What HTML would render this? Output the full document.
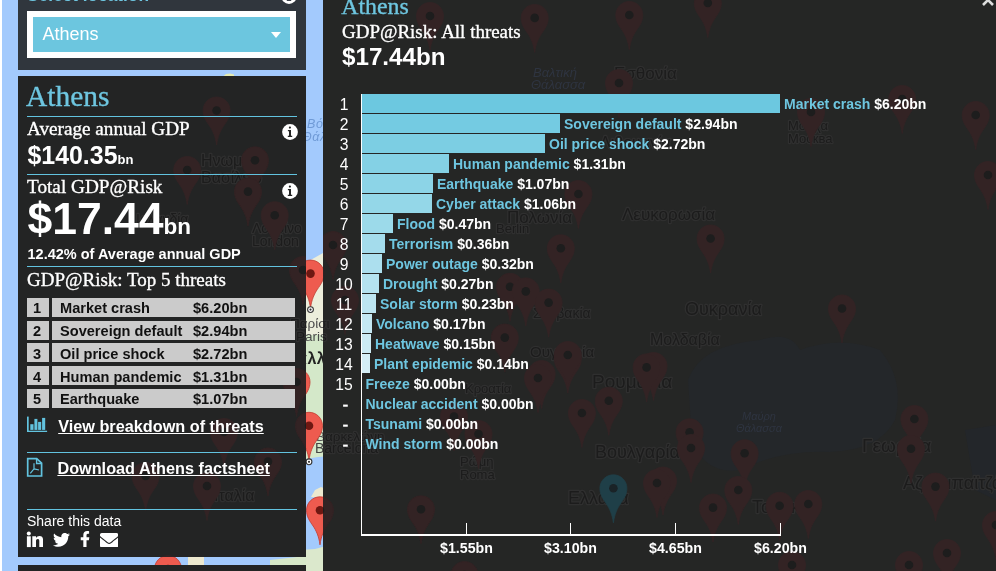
<!DOCTYPE html>
<html><head><meta charset="utf-8">
<style>
*{margin:0;padding:0;box-sizing:border-box}
html,body{width:996px;height:571px;overflow:hidden}
body{position:relative;background:#a3cafd;font-family:"Liberation Sans",Arial,sans-serif;color:#fff}
.r{position:absolute}
.t{position:absolute;white-space:nowrap;line-height:1}
.f1{font-family:"Liberation Sans",Arial,sans-serif}
.f2{font-family:"Liberation Serif","Times New Roman",serif}
.b{font-weight:bold}
</style></head><body>
<div class="r" style="left:0px;top:0px;width:2px;height:571px;background:#fff;"></div>
<svg class="r" style="left:0;top:0" width="996" height="571">
<polygon points="300,266 323,253 330,253 330,335 300,335" fill="#eceedb"/>
<polygon points="300,335 330,335 330,456 318,457 306,459 300,460" fill="#d4e8c9"/>
<polygon points="311,497 315,490 321,487 326,489 326,498" fill="#ece9cf"/>
<polygon points="300,550 315,549 330,545 330,571 300,571" fill="#dbe8cc"/>
<polygon points="188,557 204,557 204,566 188,566" fill="#ede9cf"/>
<polygon points="270,560 306,556 306,566 270,566" fill="#d7e8c9"/>
<polygon points="223,76.5 226,74 230,73.6 234,74.5 234,76.5" fill="#e6ebb0"/>
<text x="307" y="128.4" font-family="Liberation Sans,sans-serif" font-style="italic" font-size="12.5" fill="#6f9ad6" letter-spacing="0.6">Βόρεια</text>
<text x="302" y="140.5" font-family="Liberation Sans,sans-serif" font-style="italic" font-size="12.5" fill="#6f9ad6" letter-spacing="0.6">Θάλασσα</text>
<text x="290" y="328" font-family="Liberation Sans,sans-serif" font-size="13.5" fill="#4a4a4a">Παρίσι</text>
<text x="296" y="340.5" font-family="Liberation Sans,sans-serif" font-size="13.5" fill="#4a4a4a">Paris</text>
<text x="287" y="363.5" font-family="Liberation Sans,sans-serif" font-size="16" font-weight="bold" fill="#222" letter-spacing="0.5">Γαλλία</text>
<text x="316" y="441" font-family="Liberation Sans,sans-serif" font-size="13.5" fill="#555">Βαρκελώνη</text>
<text x="315" y="452.5" font-family="Liberation Sans,sans-serif" font-size="14" fill="#444">Barcelona</text>
<g transform="translate(297.0,260.1)"><path d="M13.5 0C6 0 0 6 0 13.5C0 20 3.2 24.2 6.6 29.2C9.6 33.6 12.4 39.5 13.5 48C14.6 39.5 17.4 33.6 20.4 29.2C23.8 24.2 27 20 27 13.5C27 6 21 0 13.5 0Z" fill="#ee5b4f" stroke="#c03a2f" stroke-width="0.8"/><circle cx="13.5" cy="13.5" r="4.3" fill="#6e1812"/><circle cx="13.5" cy="49.5" r="2.9" fill="#fff" stroke="#333" stroke-width="1.1"/><circle cx="13.5" cy="49.5" r="1.1" fill="#333"/></g>
<g transform="translate(283.0,368.5)"><path d="M13.5 0C6 0 0 6 0 13.5C0 20 3.2 24.2 6.6 29.2C9.6 33.6 12.4 39.5 13.5 48C14.6 39.5 17.4 33.6 20.4 29.2C23.8 24.2 27 20 27 13.5C27 6 21 0 13.5 0Z" fill="#ee5b4f" stroke="#c03a2f" stroke-width="0.8"/><circle cx="13.5" cy="13.5" r="4.3" fill="#6e1812"/></g>
<g transform="translate(295.5,412.3)"><path d="M13.5 0C6 0 0 6 0 13.5C0 20 3.2 24.2 6.6 29.2C9.6 33.6 12.4 39.5 13.5 48C14.6 39.5 17.4 33.6 20.4 29.2C23.8 24.2 27 20 27 13.5C27 6 21 0 13.5 0Z" fill="#ee5b4f" stroke="#c03a2f" stroke-width="0.8"/><circle cx="13.5" cy="13.5" r="4.3" fill="#6e1812"/><circle cx="13.5" cy="49.5" r="2.9" fill="#fff" stroke="#333" stroke-width="1.1"/><circle cx="13.5" cy="49.5" r="1.1" fill="#333"/></g>
<g transform="translate(306.5,496.8)"><path d="M13.5 0C6 0 0 6 0 13.5C0 20 3.2 24.2 6.6 29.2C9.6 33.6 12.4 39.5 13.5 48C14.6 39.5 17.4 33.6 20.4 29.2C23.8 24.2 27 20 27 13.5C27 6 21 0 13.5 0Z" fill="#ee5b4f" stroke="#c03a2f" stroke-width="0.8"/><circle cx="13.5" cy="13.5" r="4.3" fill="#6e1812"/></g>
<g transform="translate(154.5,555.5)"><path d="M13.5 0C6 0 0 6 0 13.5C0 20 3.2 24.2 6.6 29.2C9.6 33.6 12.4 39.5 13.5 48C14.6 39.5 17.4 33.6 20.4 29.2C23.8 24.2 27 20 27 13.5C27 6 21 0 13.5 0Z" fill="#ee5b4f" stroke="#c03a2f" stroke-width="0.8"/><circle cx="13.5" cy="13.5" r="4.3" fill="#6e1812"/></g>
</svg>
<div class="r" style="left:18px;top:0;width:288px;height:70px;background:#30363d"></div>
<div class="r" style="left:18px;top:76px;width:288px;height:481px;background:#232424"></div>
<div class="r" style="left:18px;top:565px;width:288px;height:10px;background:#232424"></div>
<div class="r" style="left:323px;top:0;width:673px;height:571px;background:#252625"></div>
<svg class="r" style="left:0;top:0" width="996" height="571">
<defs><clipPath id="cp"><rect x="18" y="76" width="288" height="481"/><rect x="323" y="0" width="673" height="571"/></clipPath></defs>
<g clip-path="url(#cp)">
<path d="M688 380 Q700 345 760 340 Q790 330 800 350 Q840 335 880 350 Q905 380 895 420 Q880 450 830 452 Q780 450 740 470 Q705 475 692 440 Z" fill="#24272a"/>
<polygon points="965,430 996,425 996,500 975,490" fill="#23262a"/>
<text x="533" y="77" font-family="Liberation Sans,sans-serif" font-style="italic" font-size="13" fill="#2e3440">Βαλτική</text>
<text x="531" y="89" font-family="Liberation Sans,sans-serif" font-style="italic" font-size="13" fill="#2e3440">Θάλασσα</text>
<text x="614" y="79" font-family="Liberation Sans,sans-serif" font-size="17" fill="#1c1c1c" stroke="#2f2f2f" stroke-width="2.5" paint-order="stroke" stroke-linejoin="round">Εσθονία</text>
<text x="600" y="148" font-family="Liberation Sans,sans-serif" font-size="16" fill="#1c1c1c" stroke="#2f2f2f" stroke-width="2.5" paint-order="stroke" stroke-linejoin="round">Λιθουανία</text>
<text x="622" y="220" font-family="Liberation Sans,sans-serif" font-size="17" fill="#1c1c1c" stroke="#2f2f2f" stroke-width="2.5" paint-order="stroke" stroke-linejoin="round">Λευκορωσία</text>
<text x="507" y="223" font-family="Liberation Sans,sans-serif" font-size="17" fill="#1c1c1c" stroke="#2f2f2f" stroke-width="2.5" paint-order="stroke" stroke-linejoin="round">Πολωνία</text>
<text x="685" y="315" font-family="Liberation Sans,sans-serif" font-size="18" fill="#1c1c1c" stroke="#2f2f2f" stroke-width="2.5" paint-order="stroke" stroke-linejoin="round">Ουκρανία</text>
<text x="650" y="345" font-family="Liberation Sans,sans-serif" font-size="16" fill="#1c1c1c" stroke="#2f2f2f" stroke-width="2.5" paint-order="stroke" stroke-linejoin="round">Μολδαβία</text>
<text x="533" y="318" font-family="Liberation Sans,sans-serif" font-size="14" fill="#1c1c1c" stroke="#2f2f2f" stroke-width="2.5" paint-order="stroke" stroke-linejoin="round">Σλοβακία</text>
<text x="530" y="357" font-family="Liberation Sans,sans-serif" font-size="15" fill="#1c1c1c" stroke="#2f2f2f" stroke-width="2.5" paint-order="stroke" stroke-linejoin="round">Ουγγαρία</text>
<text x="592" y="388" font-family="Liberation Sans,sans-serif" font-size="19" fill="#1c1c1c" stroke="#2f2f2f" stroke-width="2.5" paint-order="stroke" stroke-linejoin="round">Ρουμανία</text>
<text x="595" y="458" font-family="Liberation Sans,sans-serif" font-size="18" fill="#1c1c1c" stroke="#2f2f2f" stroke-width="2.5" paint-order="stroke" stroke-linejoin="round">Βουλγαρία</text>
<text x="568" y="504" font-family="Liberation Sans,sans-serif" font-size="18" fill="#1c1c1c" stroke="#2f2f2f" stroke-width="2.5" paint-order="stroke" stroke-linejoin="round">Ελλάδα</text>
<text x="862" y="452" font-family="Liberation Sans,sans-serif" font-size="19" fill="#1c1c1c" stroke="#2f2f2f" stroke-width="2.5" paint-order="stroke" stroke-linejoin="round">Γεωργία</text>
<text x="903" y="489" font-family="Liberation Sans,sans-serif" font-size="18" fill="#1c1c1c" stroke="#2f2f2f" stroke-width="2.5" paint-order="stroke" stroke-linejoin="round">Αζερμπαϊτζάν</text>
<text x="752" y="513" font-family="Liberation Sans,sans-serif" font-size="18" fill="#1c1c1c" stroke="#2f2f2f" stroke-width="2.5" paint-order="stroke" stroke-linejoin="round">Τουρκία</text>
<text x="788" y="130" font-family="Liberation Sans,sans-serif" font-size="13" fill="#1c1c1c" stroke="#2f2f2f" stroke-width="2.5" paint-order="stroke" stroke-linejoin="round">Μόσχα</text>
<text x="788" y="143" font-family="Liberation Sans,sans-serif" font-size="13" fill="#1c1c1c" stroke="#2f2f2f" stroke-width="2.5" paint-order="stroke" stroke-linejoin="round">Москва</text>
<text x="465" y="393" font-family="Liberation Sans,sans-serif" font-size="13" fill="#1c1c1c" stroke="#2f2f2f" stroke-width="2.5" paint-order="stroke" stroke-linejoin="round">Κροατία</text>
<text x="460" y="466" font-family="Liberation Sans,sans-serif" font-size="13" fill="#1c1c1c" stroke="#2f2f2f" stroke-width="2.5" paint-order="stroke" stroke-linejoin="round">Ρώμη</text>
<text x="460" y="479" font-family="Liberation Sans,sans-serif" font-size="13" fill="#1c1c1c" stroke="#2f2f2f" stroke-width="2.5" paint-order="stroke" stroke-linejoin="round">Roma</text>
<text x="742" y="420" font-family="Liberation Sans,sans-serif" font-style="italic" font-size="11" fill="#2e3440">Μαύρη</text>
<text x="736" y="432" font-family="Liberation Sans,sans-serif" font-style="italic" font-size="11" fill="#2e3440">Θάλασσα</text>
<text x="201" y="166" font-family="Liberation Sans,sans-serif" font-size="16" fill="#1c1c1c" stroke="#2f2f2f" stroke-width="2.5" paint-order="stroke" stroke-linejoin="round">Ηνωμένο</text>
<text x="201" y="183" font-family="Liberation Sans,sans-serif" font-size="16" fill="#1c1c1c" stroke="#2f2f2f" stroke-width="2.5" paint-order="stroke" stroke-linejoin="round">Βασίλειο</text>
<text x="252" y="233" font-family="Liberation Sans,sans-serif" font-size="14" fill="#1c1c1c" stroke="#2f2f2f" stroke-width="2.5" paint-order="stroke" stroke-linejoin="round">Λονδίνο</text>
<text x="252" y="246" font-family="Liberation Sans,sans-serif" font-size="14" fill="#1c1c1c" stroke="#2f2f2f" stroke-width="2.5" paint-order="stroke" stroke-linejoin="round">London</text>
<text x="214" y="501" font-family="Liberation Sans,sans-serif" font-size="16" fill="#1c1c1c" stroke="#2f2f2f" stroke-width="2.5" paint-order="stroke" stroke-linejoin="round">Ιταλία</text>
<text x="136" y="224" font-family="Liberation Sans,sans-serif" font-size="14" fill="#1c1c1c" stroke="#2f2f2f" stroke-width="2.5" paint-order="stroke" stroke-linejoin="round">Ιρλανδία</text>
<text x="316" y="441" font-family="Liberation Sans,sans-serif" font-size="13.5" fill="#1c1c1c" stroke="#2f2f2f" stroke-width="2.5" paint-order="stroke" stroke-linejoin="round">Βαρκελώνη</text>
<text x="315" y="452.5" font-family="Liberation Sans,sans-serif" font-size="14" fill="#1c1c1c" stroke="#2f2f2f" stroke-width="2.5" paint-order="stroke" stroke-linejoin="round">Barcelona</text>
<text x="290" y="328" font-family="Liberation Sans,sans-serif" font-size="13.5" fill="#1c1c1c" stroke="#2f2f2f" stroke-width="2.5" paint-order="stroke" stroke-linejoin="round">Παρίσι</text>
<text x="296" y="340.5" font-family="Liberation Sans,sans-serif" font-size="13.5" fill="#1c1c1c" stroke="#2f2f2f" stroke-width="2.5" paint-order="stroke" stroke-linejoin="round">Paris</text>
<text x="496" y="233" font-family="Liberation Sans,sans-serif" font-size="13" fill="#1c1c1c" stroke="#2f2f2f" stroke-width="2.5" paint-order="stroke" stroke-linejoin="round">Berlin</text>
<g transform="translate(416.5,2.5)"><path d="M13.5 0C6 0 0 6 0 13.5C0 20 3.2 24.2 6.6 29.2C9.6 33.6 12.4 39.5 13.5 48C14.6 39.5 17.4 33.6 20.4 29.2C23.8 24.2 27 20 27 13.5C27 6 21 0 13.5 0Z" fill="#332324" stroke="#332324" stroke-width="0.8"/><circle cx="13.5" cy="13.5" r="4.3" fill="#1d1d1d"/></g>
<g transform="translate(521.2,4.4)"><path d="M13.5 0C6 0 0 6 0 13.5C0 20 3.2 24.2 6.6 29.2C9.6 33.6 12.4 39.5 13.5 48C14.6 39.5 17.4 33.6 20.4 29.2C23.8 24.2 27 20 27 13.5C27 6 21 0 13.5 0Z" fill="#332324" stroke="#332324" stroke-width="0.8"/><circle cx="13.5" cy="13.5" r="4.3" fill="#1d1d1d"/></g>
<g transform="translate(615.8,1.5)"><path d="M13.5 0C6 0 0 6 0 13.5C0 20 3.2 24.2 6.6 29.2C9.6 33.6 12.4 39.5 13.5 48C14.6 39.5 17.4 33.6 20.4 29.2C23.8 24.2 27 20 27 13.5C27 6 21 0 13.5 0Z" fill="#332324" stroke="#332324" stroke-width="0.8"/><circle cx="13.5" cy="13.5" r="4.3" fill="#1d1d1d"/></g>
<g transform="translate(605.5,69.5)"><path d="M13.5 0C6 0 0 6 0 13.5C0 20 3.2 24.2 6.6 29.2C9.6 33.6 12.4 39.5 13.5 48C14.6 39.5 17.4 33.6 20.4 29.2C23.8 24.2 27 20 27 13.5C27 6 21 0 13.5 0Z" fill="#332324" stroke="#332324" stroke-width="0.8"/><circle cx="13.5" cy="13.5" r="4.3" fill="#1d1d1d"/></g>
<g transform="translate(694.3,-10.5)"><path d="M13.5 0C6 0 0 6 0 13.5C0 20 3.2 24.2 6.6 29.2C9.6 33.6 12.4 39.5 13.5 48C14.6 39.5 17.4 33.6 20.4 29.2C23.8 24.2 27 20 27 13.5C27 6 21 0 13.5 0Z" fill="#332324" stroke="#332324" stroke-width="0.8"/><circle cx="13.5" cy="13.5" r="4.3" fill="#1d1d1d"/></g>
<g transform="translate(797.5,98.5)"><path d="M13.5 0C6 0 0 6 0 13.5C0 20 3.2 24.2 6.6 29.2C9.6 33.6 12.4 39.5 13.5 48C14.6 39.5 17.4 33.6 20.4 29.2C23.8 24.2 27 20 27 13.5C27 6 21 0 13.5 0Z" fill="#332324" stroke="#332324" stroke-width="0.8"/><circle cx="13.5" cy="13.5" r="4.3" fill="#1d1d1d"/></g>
<g transform="translate(888.7,85.5)"><path d="M13.5 0C6 0 0 6 0 13.5C0 20 3.2 24.2 6.6 29.2C9.6 33.6 12.4 39.5 13.5 48C14.6 39.5 17.4 33.6 20.4 29.2C23.8 24.2 27 20 27 13.5C27 6 21 0 13.5 0Z" fill="#332324" stroke="#332324" stroke-width="0.8"/><circle cx="13.5" cy="13.5" r="4.3" fill="#1d1d1d"/></g>
<g transform="translate(962.2,101.5)"><path d="M13.5 0C6 0 0 6 0 13.5C0 20 3.2 24.2 6.6 29.2C9.6 33.6 12.4 39.5 13.5 48C14.6 39.5 17.4 33.6 20.4 29.2C23.8 24.2 27 20 27 13.5C27 6 21 0 13.5 0Z" fill="#332324" stroke="#332324" stroke-width="0.8"/><circle cx="13.5" cy="13.5" r="4.3" fill="#1d1d1d"/></g>
<g transform="translate(974.5,161.5)"><path d="M13.5 0C6 0 0 6 0 13.5C0 20 3.2 24.2 6.6 29.2C9.6 33.6 12.4 39.5 13.5 48C14.6 39.5 17.4 33.6 20.4 29.2C23.8 24.2 27 20 27 13.5C27 6 21 0 13.5 0Z" fill="#332324" stroke="#332324" stroke-width="0.8"/><circle cx="13.5" cy="13.5" r="4.3" fill="#1d1d1d"/></g>
<g transform="translate(697.1,225.0)"><path d="M13.5 0C6 0 0 6 0 13.5C0 20 3.2 24.2 6.6 29.2C9.6 33.6 12.4 39.5 13.5 48C14.6 39.5 17.4 33.6 20.4 29.2C23.8 24.2 27 20 27 13.5C27 6 21 0 13.5 0Z" fill="#332324" stroke="#332324" stroke-width="0.8"/><circle cx="13.5" cy="13.5" r="4.3" fill="#1d1d1d"/></g>
<g transform="translate(828.5,295.0)"><path d="M13.5 0C6 0 0 6 0 13.5C0 20 3.2 24.2 6.6 29.2C9.6 33.6 12.4 39.5 13.5 48C14.6 39.5 17.4 33.6 20.4 29.2C23.8 24.2 27 20 27 13.5C27 6 21 0 13.5 0Z" fill="#332324" stroke="#332324" stroke-width="0.8"/><circle cx="13.5" cy="13.5" r="4.3" fill="#1d1d1d"/></g>
<g transform="translate(640.0,352.5)"><path d="M13.5 0C6 0 0 6 0 13.5C0 20 3.2 24.2 6.6 29.2C9.6 33.6 12.4 39.5 13.5 48C14.6 39.5 17.4 33.6 20.4 29.2C23.8 24.2 27 20 27 13.5C27 6 21 0 13.5 0Z" fill="#332324" stroke="#332324" stroke-width="0.8"/><circle cx="13.5" cy="13.5" r="4.3" fill="#1d1d1d"/></g>
<g transform="translate(676.1,418.8)"><path d="M13.5 0C6 0 0 6 0 13.5C0 20 3.2 24.2 6.6 29.2C9.6 33.6 12.4 39.5 13.5 48C14.6 39.5 17.4 33.6 20.4 29.2C23.8 24.2 27 20 27 13.5C27 6 21 0 13.5 0Z" fill="#332324" stroke="#332324" stroke-width="0.8"/><circle cx="13.5" cy="13.5" r="4.3" fill="#1d1d1d"/></g>
<g transform="translate(677.5,434.5)"><path d="M13.5 0C6 0 0 6 0 13.5C0 20 3.2 24.2 6.6 29.2C9.6 33.6 12.4 39.5 13.5 48C14.6 39.5 17.4 33.6 20.4 29.2C23.8 24.2 27 20 27 13.5C27 6 21 0 13.5 0Z" fill="#332324" stroke="#332324" stroke-width="0.8"/><circle cx="13.5" cy="13.5" r="4.3" fill="#1d1d1d"/></g>
<g transform="translate(649.5,467.1)"><path d="M13.5 0C6 0 0 6 0 13.5C0 20 3.2 24.2 6.6 29.2C9.6 33.6 12.4 39.5 13.5 48C14.6 39.5 17.4 33.6 20.4 29.2C23.8 24.2 27 20 27 13.5C27 6 21 0 13.5 0Z" fill="#332324" stroke="#332324" stroke-width="0.8"/><circle cx="13.5" cy="13.5" r="4.3" fill="#1d1d1d"/></g>
<g transform="translate(731.1,439.8)"><path d="M13.5 0C6 0 0 6 0 13.5C0 20 3.2 24.2 6.6 29.2C9.6 33.6 12.4 39.5 13.5 48C14.6 39.5 17.4 33.6 20.4 29.2C23.8 24.2 27 20 27 13.5C27 6 21 0 13.5 0Z" fill="#332324" stroke="#332324" stroke-width="0.8"/><circle cx="13.5" cy="13.5" r="4.3" fill="#1d1d1d"/></g>
<g transform="translate(724.8,476.5)"><path d="M13.5 0C6 0 0 6 0 13.5C0 20 3.2 24.2 6.6 29.2C9.6 33.6 12.4 39.5 13.5 48C14.6 39.5 17.4 33.6 20.4 29.2C23.8 24.2 27 20 27 13.5C27 6 21 0 13.5 0Z" fill="#332324" stroke="#332324" stroke-width="0.8"/><circle cx="13.5" cy="13.5" r="4.3" fill="#1d1d1d"/></g>
<g transform="translate(699.5,494.1)"><path d="M13.5 0C6 0 0 6 0 13.5C0 20 3.2 24.2 6.6 29.2C9.6 33.6 12.4 39.5 13.5 48C14.6 39.5 17.4 33.6 20.4 29.2C23.8 24.2 27 20 27 13.5C27 6 21 0 13.5 0Z" fill="#332324" stroke="#332324" stroke-width="0.8"/><circle cx="13.5" cy="13.5" r="4.3" fill="#1d1d1d"/></g>
<g transform="translate(766.1,492.3)"><path d="M13.5 0C6 0 0 6 0 13.5C0 20 3.2 24.2 6.6 29.2C9.6 33.6 12.4 39.5 13.5 48C14.6 39.5 17.4 33.6 20.4 29.2C23.8 24.2 27 20 27 13.5C27 6 21 0 13.5 0Z" fill="#332324" stroke="#332324" stroke-width="0.8"/><circle cx="13.5" cy="13.5" r="4.3" fill="#1d1d1d"/></g>
<g transform="translate(794.8,490.5)"><path d="M13.5 0C6 0 0 6 0 13.5C0 20 3.2 24.2 6.6 29.2C9.6 33.6 12.4 39.5 13.5 48C14.6 39.5 17.4 33.6 20.4 29.2C23.8 24.2 27 20 27 13.5C27 6 21 0 13.5 0Z" fill="#332324" stroke="#332324" stroke-width="0.8"/><circle cx="13.5" cy="13.5" r="4.3" fill="#1d1d1d"/></g>
<g transform="translate(900.9,405.5)"><path d="M13.5 0C6 0 0 6 0 13.5C0 20 3.2 24.2 6.6 29.2C9.6 33.6 12.4 39.5 13.5 48C14.6 39.5 17.4 33.6 20.4 29.2C23.8 24.2 27 20 27 13.5C27 6 21 0 13.5 0Z" fill="#332324" stroke="#332324" stroke-width="0.8"/><circle cx="13.5" cy="13.5" r="4.3" fill="#1d1d1d"/></g>
<g transform="translate(897.5,435.3)"><path d="M13.5 0C6 0 0 6 0 13.5C0 20 3.2 24.2 6.6 29.2C9.6 33.6 12.4 39.5 13.5 48C14.6 39.5 17.4 33.6 20.4 29.2C23.8 24.2 27 20 27 13.5C27 6 21 0 13.5 0Z" fill="#332324" stroke="#332324" stroke-width="0.8"/><circle cx="13.5" cy="13.5" r="4.3" fill="#1d1d1d"/></g>
<g transform="translate(922.0,473.1)"><path d="M13.5 0C6 0 0 6 0 13.5C0 20 3.2 24.2 6.6 29.2C9.6 33.6 12.4 39.5 13.5 48C14.6 39.5 17.4 33.6 20.4 29.2C23.8 24.2 27 20 27 13.5C27 6 21 0 13.5 0Z" fill="#332324" stroke="#332324" stroke-width="0.8"/><circle cx="13.5" cy="13.5" r="4.3" fill="#1d1d1d"/></g>
<g transform="translate(933.5,539.5)"><path d="M13.5 0C6 0 0 6 0 13.5C0 20 3.2 24.2 6.6 29.2C9.6 33.6 12.4 39.5 13.5 48C14.6 39.5 17.4 33.6 20.4 29.2C23.8 24.2 27 20 27 13.5C27 6 21 0 13.5 0Z" fill="#332324" stroke="#332324" stroke-width="0.8"/><circle cx="13.5" cy="13.5" r="4.3" fill="#1d1d1d"/></g>
<g transform="translate(895.5,551.5)"><path d="M13.5 0C6 0 0 6 0 13.5C0 20 3.2 24.2 6.6 29.2C9.6 33.6 12.4 39.5 13.5 48C14.6 39.5 17.4 33.6 20.4 29.2C23.8 24.2 27 20 27 13.5C27 6 21 0 13.5 0Z" fill="#332324" stroke="#332324" stroke-width="0.8"/><circle cx="13.5" cy="13.5" r="4.3" fill="#1d1d1d"/></g>
<g transform="translate(778.5,551.5)"><path d="M13.5 0C6 0 0 6 0 13.5C0 20 3.2 24.2 6.6 29.2C9.6 33.6 12.4 39.5 13.5 48C14.6 39.5 17.4 33.6 20.4 29.2C23.8 24.2 27 20 27 13.5C27 6 21 0 13.5 0Z" fill="#332324" stroke="#332324" stroke-width="0.8"/><circle cx="13.5" cy="13.5" r="4.3" fill="#1d1d1d"/></g>
<g transform="translate(982.5,511.5)"><path d="M13.5 0C6 0 0 6 0 13.5C0 20 3.2 24.2 6.6 29.2C9.6 33.6 12.4 39.5 13.5 48C14.6 39.5 17.4 33.6 20.4 29.2C23.8 24.2 27 20 27 13.5C27 6 21 0 13.5 0Z" fill="#332324" stroke="#332324" stroke-width="0.8"/><circle cx="13.5" cy="13.5" r="4.3" fill="#1d1d1d"/></g>
<g transform="translate(564.9,180.5)"><path d="M13.5 0C6 0 0 6 0 13.5C0 20 3.2 24.2 6.6 29.2C9.6 33.6 12.4 39.5 13.5 48C14.6 39.5 17.4 33.6 20.4 29.2C23.8 24.2 27 20 27 13.5C27 6 21 0 13.5 0Z" fill="#332324" stroke="#332324" stroke-width="0.8"/><circle cx="13.5" cy="13.5" r="4.3" fill="#1d1d1d"/></g>
<g transform="translate(547.3,234.8)"><path d="M13.5 0C6 0 0 6 0 13.5C0 20 3.2 24.2 6.6 29.2C9.6 33.6 12.4 39.5 13.5 48C14.6 39.5 17.4 33.6 20.4 29.2C23.8 24.2 27 20 27 13.5C27 6 21 0 13.5 0Z" fill="#332324" stroke="#332324" stroke-width="0.8"/><circle cx="13.5" cy="13.5" r="4.3" fill="#1d1d1d"/></g>
<g transform="translate(496.5,273.3)"><path d="M13.5 0C6 0 0 6 0 13.5C0 20 3.2 24.2 6.6 29.2C9.6 33.6 12.4 39.5 13.5 48C14.6 39.5 17.4 33.6 20.4 29.2C23.8 24.2 27 20 27 13.5C27 6 21 0 13.5 0Z" fill="#332324" stroke="#332324" stroke-width="0.8"/><circle cx="13.5" cy="13.5" r="4.3" fill="#1d1d1d"/></g>
<g transform="translate(512.3,277.9)"><path d="M13.5 0C6 0 0 6 0 13.5C0 20 3.2 24.2 6.6 29.2C9.6 33.6 12.4 39.5 13.5 48C14.6 39.5 17.4 33.6 20.4 29.2C23.8 24.2 27 20 27 13.5C27 6 21 0 13.5 0Z" fill="#332324" stroke="#332324" stroke-width="0.8"/><circle cx="13.5" cy="13.5" r="4.3" fill="#1d1d1d"/></g>
<g transform="translate(535.1,289.1)"><path d="M13.5 0C6 0 0 6 0 13.5C0 20 3.2 24.2 6.6 29.2C9.6 33.6 12.4 39.5 13.5 48C14.6 39.5 17.4 33.6 20.4 29.2C23.8 24.2 27 20 27 13.5C27 6 21 0 13.5 0Z" fill="#332324" stroke="#332324" stroke-width="0.8"/><circle cx="13.5" cy="13.5" r="4.3" fill="#1d1d1d"/></g>
<g transform="translate(491.3,324.1)"><path d="M13.5 0C6 0 0 6 0 13.5C0 20 3.2 24.2 6.6 29.2C9.6 33.6 12.4 39.5 13.5 48C14.6 39.5 17.4 33.6 20.4 29.2C23.8 24.2 27 20 27 13.5C27 6 21 0 13.5 0Z" fill="#332324" stroke="#332324" stroke-width="0.8"/><circle cx="13.5" cy="13.5" r="4.3" fill="#1d1d1d"/></g>
<g transform="translate(554.3,345.1)"><path d="M13.5 0C6 0 0 6 0 13.5C0 20 3.2 24.2 6.6 29.2C9.6 33.6 12.4 39.5 13.5 48C14.6 39.5 17.4 33.6 20.4 29.2C23.8 24.2 27 20 27 13.5C27 6 21 0 13.5 0Z" fill="#332324" stroke="#332324" stroke-width="0.8"/><circle cx="13.5" cy="13.5" r="4.3" fill="#1d1d1d"/></g>
<g transform="translate(528.1,360.5)"><path d="M13.5 0C6 0 0 6 0 13.5C0 20 3.2 24.2 6.6 29.2C9.6 33.6 12.4 39.5 13.5 48C14.6 39.5 17.4 33.6 20.4 29.2C23.8 24.2 27 20 27 13.5C27 6 21 0 13.5 0Z" fill="#332324" stroke="#332324" stroke-width="0.8"/><circle cx="13.5" cy="13.5" r="4.3" fill="#1d1d1d"/></g>
<g transform="translate(633.1,353.9)"><path d="M13.5 0C6 0 0 6 0 13.5C0 20 3.2 24.2 6.6 29.2C9.6 33.6 12.4 39.5 13.5 48C14.6 39.5 17.4 33.6 20.4 29.2C23.8 24.2 27 20 27 13.5C27 6 21 0 13.5 0Z" fill="#332324" stroke="#332324" stroke-width="0.8"/><circle cx="13.5" cy="13.5" r="4.3" fill="#1d1d1d"/></g>
<g transform="translate(524.5,364.5)"><path d="M13.5 0C6 0 0 6 0 13.5C0 20 3.2 24.2 6.6 29.2C9.6 33.6 12.4 39.5 13.5 48C14.6 39.5 17.4 33.6 20.4 29.2C23.8 24.2 27 20 27 13.5C27 6 21 0 13.5 0Z" fill="#332324" stroke="#332324" stroke-width="0.8"/><circle cx="13.5" cy="13.5" r="4.3" fill="#1d1d1d"/></g>
<g transform="translate(554.3,341.5)"><path d="M13.5 0C6 0 0 6 0 13.5C0 20 3.2 24.2 6.6 29.2C9.6 33.6 12.4 39.5 13.5 48C14.6 39.5 17.4 33.6 20.4 29.2C23.8 24.2 27 20 27 13.5C27 6 21 0 13.5 0Z" fill="#332324" stroke="#332324" stroke-width="0.8"/><circle cx="13.5" cy="13.5" r="4.3" fill="#1d1d1d"/></g>
<g transform="translate(595.3,387.3)"><path d="M13.5 0C6 0 0 6 0 13.5C0 20 3.2 24.2 6.6 29.2C9.6 33.6 12.4 39.5 13.5 48C14.6 39.5 17.4 33.6 20.4 29.2C23.8 24.2 27 20 27 13.5C27 6 21 0 13.5 0Z" fill="#332324" stroke="#332324" stroke-width="0.8"/><circle cx="13.5" cy="13.5" r="4.3" fill="#1d1d1d"/></g>
<g transform="translate(568.4,399.5)"><path d="M13.5 0C6 0 0 6 0 13.5C0 20 3.2 24.2 6.6 29.2C9.6 33.6 12.4 39.5 13.5 48C14.6 39.5 17.4 33.6 20.4 29.2C23.8 24.2 27 20 27 13.5C27 6 21 0 13.5 0Z" fill="#332324" stroke="#332324" stroke-width="0.8"/><circle cx="13.5" cy="13.5" r="4.3" fill="#1d1d1d"/></g>
<g transform="translate(465.0,420.5)"><path d="M13.5 0C6 0 0 6 0 13.5C0 20 3.2 24.2 6.6 29.2C9.6 33.6 12.4 39.5 13.5 48C14.6 39.5 17.4 33.6 20.4 29.2C23.8 24.2 27 20 27 13.5C27 6 21 0 13.5 0Z" fill="#332324" stroke="#332324" stroke-width="0.8"/><circle cx="13.5" cy="13.5" r="4.3" fill="#1d1d1d"/></g>
<g transform="translate(440.5,403.0)"><path d="M13.5 0C6 0 0 6 0 13.5C0 20 3.2 24.2 6.6 29.2C9.6 33.6 12.4 39.5 13.5 48C14.6 39.5 17.4 33.6 20.4 29.2C23.8 24.2 27 20 27 13.5C27 6 21 0 13.5 0Z" fill="#332324" stroke="#332324" stroke-width="0.8"/><circle cx="13.5" cy="13.5" r="4.3" fill="#1d1d1d"/></g>
<g transform="translate(643.5,469.5)"><path d="M13.5 0C6 0 0 6 0 13.5C0 20 3.2 24.2 6.6 29.2C9.6 33.6 12.4 39.5 13.5 48C14.6 39.5 17.4 33.6 20.4 29.2C23.8 24.2 27 20 27 13.5C27 6 21 0 13.5 0Z" fill="#332324" stroke="#332324" stroke-width="0.8"/><circle cx="13.5" cy="13.5" r="4.3" fill="#1d1d1d"/></g>
<g transform="translate(451.0,561.5)"><path d="M13.5 0C6 0 0 6 0 13.5C0 20 3.2 24.2 6.6 29.2C9.6 33.6 12.4 39.5 13.5 48C14.6 39.5 17.4 33.6 20.4 29.2C23.8 24.2 27 20 27 13.5C27 6 21 0 13.5 0Z" fill="#332324" stroke="#332324" stroke-width="0.8"/><circle cx="13.5" cy="13.5" r="4.3" fill="#1d1d1d"/></g>
<g transform="translate(407.5,495.8)"><path d="M13.5 0C6 0 0 6 0 13.5C0 20 3.2 24.2 6.6 29.2C9.6 33.6 12.4 39.5 13.5 48C14.6 39.5 17.4 33.6 20.4 29.2C23.8 24.2 27 20 27 13.5C27 6 21 0 13.5 0Z" fill="#332324" stroke="#332324" stroke-width="0.8"/><circle cx="13.5" cy="13.5" r="4.3" fill="#1d1d1d"/></g>
<g transform="translate(306.5,496.8)"><path d="M13.5 0C6 0 0 6 0 13.5C0 20 3.2 24.2 6.6 29.2C9.6 33.6 12.4 39.5 13.5 48C14.6 39.5 17.4 33.6 20.4 29.2C23.8 24.2 27 20 27 13.5C27 6 21 0 13.5 0Z" fill="#332324" stroke="#332324" stroke-width="0.8"/><circle cx="13.5" cy="13.5" r="4.3" fill="#1d1d1d"/></g>
<g transform="translate(297.0,260.1)"><path d="M13.5 0C6 0 0 6 0 13.5C0 20 3.2 24.2 6.6 29.2C9.6 33.6 12.4 39.5 13.5 48C14.6 39.5 17.4 33.6 20.4 29.2C23.8 24.2 27 20 27 13.5C27 6 21 0 13.5 0Z" fill="#332324" stroke="#332324" stroke-width="0.8"/><circle cx="13.5" cy="13.5" r="4.3" fill="#1d1d1d"/></g>
<g transform="translate(283.0,368.5)"><path d="M13.5 0C6 0 0 6 0 13.5C0 20 3.2 24.2 6.6 29.2C9.6 33.6 12.4 39.5 13.5 48C14.6 39.5 17.4 33.6 20.4 29.2C23.8 24.2 27 20 27 13.5C27 6 21 0 13.5 0Z" fill="#332324" stroke="#332324" stroke-width="0.8"/><circle cx="13.5" cy="13.5" r="4.3" fill="#1d1d1d"/></g>
<g transform="translate(295.5,412.3)"><path d="M13.5 0C6 0 0 6 0 13.5C0 20 3.2 24.2 6.6 29.2C9.6 33.6 12.4 39.5 13.5 48C14.6 39.5 17.4 33.6 20.4 29.2C23.8 24.2 27 20 27 13.5C27 6 21 0 13.5 0Z" fill="#332324" stroke="#332324" stroke-width="0.8"/><circle cx="13.5" cy="13.5" r="4.3" fill="#1d1d1d"/></g>
<g transform="translate(203.1,97.0)"><path d="M13.5 0C6 0 0 6 0 13.5C0 20 3.2 24.2 6.6 29.2C9.6 33.6 12.4 39.5 13.5 48C14.6 39.5 17.4 33.6 20.4 29.2C23.8 24.2 27 20 27 13.5C27 6 21 0 13.5 0Z" fill="#332324" stroke="#332324" stroke-width="0.8"/><circle cx="13.5" cy="13.5" r="4.3" fill="#1d1d1d"/></g>
<g transform="translate(241.5,146.8)"><path d="M13.5 0C6 0 0 6 0 13.5C0 20 3.2 24.2 6.6 29.2C9.6 33.6 12.4 39.5 13.5 48C14.6 39.5 17.4 33.6 20.4 29.2C23.8 24.2 27 20 27 13.5C27 6 21 0 13.5 0Z" fill="#332324" stroke="#332324" stroke-width="0.8"/><circle cx="13.5" cy="13.5" r="4.3" fill="#1d1d1d"/></g>
<g transform="translate(173.7,156.5)"><path d="M13.5 0C6 0 0 6 0 13.5C0 20 3.2 24.2 6.6 29.2C9.6 33.6 12.4 39.5 13.5 48C14.6 39.5 17.4 33.6 20.4 29.2C23.8 24.2 27 20 27 13.5C27 6 21 0 13.5 0Z" fill="#332324" stroke="#332324" stroke-width="0.8"/><circle cx="13.5" cy="13.5" r="4.3" fill="#1d1d1d"/></g>
<g transform="translate(234.5,178.1)"><path d="M13.5 0C6 0 0 6 0 13.5C0 20 3.2 24.2 6.6 29.2C9.6 33.6 12.4 39.5 13.5 48C14.6 39.5 17.4 33.6 20.4 29.2C23.8 24.2 27 20 27 13.5C27 6 21 0 13.5 0Z" fill="#332324" stroke="#332324" stroke-width="0.8"/><circle cx="13.5" cy="13.5" r="4.3" fill="#1d1d1d"/></g>
<g transform="translate(261.2,201.7)"><path d="M13.5 0C6 0 0 6 0 13.5C0 20 3.2 24.2 6.6 29.2C9.6 33.6 12.4 39.5 13.5 48C14.6 39.5 17.4 33.6 20.4 29.2C23.8 24.2 27 20 27 13.5C27 6 21 0 13.5 0Z" fill="#332324" stroke="#332324" stroke-width="0.8"/><circle cx="13.5" cy="13.5" r="4.3" fill="#1d1d1d"/></g>
<g transform="translate(289.5,256.5)"><path d="M13.5 0C6 0 0 6 0 13.5C0 20 3.2 24.2 6.6 29.2C9.6 33.6 12.4 39.5 13.5 48C14.6 39.5 17.4 33.6 20.4 29.2C23.8 24.2 27 20 27 13.5C27 6 21 0 13.5 0Z" fill="#332324" stroke="#332324" stroke-width="0.8"/><circle cx="13.5" cy="13.5" r="4.3" fill="#1d1d1d"/></g>
<g transform="translate(210.5,418.5)"><path d="M13.5 0C6 0 0 6 0 13.5C0 20 3.2 24.2 6.6 29.2C9.6 33.6 12.4 39.5 13.5 48C14.6 39.5 17.4 33.6 20.4 29.2C23.8 24.2 27 20 27 13.5C27 6 21 0 13.5 0Z" fill="#332324" stroke="#332324" stroke-width="0.8"/><circle cx="13.5" cy="13.5" r="4.3" fill="#1d1d1d"/></g>
<g transform="translate(132.1,462.5)"><path d="M13.5 0C6 0 0 6 0 13.5C0 20 3.2 24.2 6.6 29.2C9.6 33.6 12.4 39.5 13.5 48C14.6 39.5 17.4 33.6 20.4 29.2C23.8 24.2 27 20 27 13.5C27 6 21 0 13.5 0Z" fill="#332324" stroke="#332324" stroke-width="0.8"/><circle cx="13.5" cy="13.5" r="4.3" fill="#1d1d1d"/></g>
<g transform="translate(193.5,472.5)"><path d="M13.5 0C6 0 0 6 0 13.5C0 20 3.2 24.2 6.6 29.2C9.6 33.6 12.4 39.5 13.5 48C14.6 39.5 17.4 33.6 20.4 29.2C23.8 24.2 27 20 27 13.5C27 6 21 0 13.5 0Z" fill="#332324" stroke="#332324" stroke-width="0.8"/><circle cx="13.5" cy="13.5" r="4.3" fill="#1d1d1d"/></g>
<g transform="translate(254.5,448.0)"><path d="M13.5 0C6 0 0 6 0 13.5C0 20 3.2 24.2 6.6 29.2C9.6 33.6 12.4 39.5 13.5 48C14.6 39.5 17.4 33.6 20.4 29.2C23.8 24.2 27 20 27 13.5C27 6 21 0 13.5 0Z" fill="#332324" stroke="#332324" stroke-width="0.8"/><circle cx="13.5" cy="13.5" r="4.3" fill="#1d1d1d"/></g>
<g transform="translate(154.5,555.5)"><path d="M13.5 0C6 0 0 6 0 13.5C0 20 3.2 24.2 6.6 29.2C9.6 33.6 12.4 39.5 13.5 48C14.6 39.5 17.4 33.6 20.4 29.2C23.8 24.2 27 20 27 13.5C27 6 21 0 13.5 0Z" fill="#332324" stroke="#332324" stroke-width="0.8"/><circle cx="13.5" cy="13.5" r="4.3" fill="#1d1d1d"/></g>
<g transform="translate(319.5,231.5)"><path d="M13.5 0C6 0 0 6 0 13.5C0 20 3.2 24.2 6.6 29.2C9.6 33.6 12.4 39.5 13.5 48C14.6 39.5 17.4 33.6 20.4 29.2C23.8 24.2 27 20 27 13.5C27 6 21 0 13.5 0Z" fill="#332324" stroke="#332324" stroke-width="0.8"/><circle cx="13.5" cy="13.5" r="4.3" fill="#1d1d1d"/></g>
<g transform="translate(331.5,286.5)"><path d="M13.5 0C6 0 0 6 0 13.5C0 20 3.2 24.2 6.6 29.2C9.6 33.6 12.4 39.5 13.5 48C14.6 39.5 17.4 33.6 20.4 29.2C23.8 24.2 27 20 27 13.5C27 6 21 0 13.5 0Z" fill="#332324" stroke="#332324" stroke-width="0.8"/><circle cx="13.5" cy="13.5" r="4.3" fill="#1d1d1d"/></g>
<g transform="translate(599.9,474.8)"><path d="M13.5 0C6 0 0 6 0 13.5C0 20 3.2 24.2 6.6 29.2C9.6 33.6 12.4 39.5 13.5 48C14.6 39.5 17.4 33.6 20.4 29.2C23.8 24.2 27 20 27 13.5C27 6 21 0 13.5 0Z" fill="#1f3f48" stroke="#1f3f48" stroke-width="0.8"/><circle cx="13.5" cy="13.5" r="4.3" fill="#1a2327"/></g>
</g></svg>
<div class="t f1 b" style="left:27px;top:-12.64px;font-size:17.3px;color:#6ec6e0;">Select location</div>
<div class="r" style="left:27px;top:11px;width:269px;height:47px;background:#fff;"></div>
<div class="r" style="left:33px;top:17px;width:257px;height:35px;background:#6cc6df;"></div>
<div class="t f1" style="left:42.5px;top:24.76px;font-size:18px;color:#fff;">Athens</div>
<div class="r" style="left:271px;top:32px;width:0;height:0;border-left:5.5px solid transparent;border-right:5.5px solid transparent;border-top:6px solid #fff"></div>
<div class="t f2" style="left:25.9px;top:80.54px;font-size:30.4px;color:#6ec6e0;-webkit-text-stroke:0.35px currentColor;transform:scaleX(0.969);transform-origin:0 0;">Athens</div>
<div class="r" style="left:27px;top:116px;width:270px;height:1px;background:#62c3df;"></div>
<div class="t f2" style="left:27px;top:119.22px;font-size:19.8px;color:#fff;-webkit-text-stroke:0.35px currentColor;transform:scaleX(0.97);transform-origin:0 0;">Average annual GDP</div>
<div class="t f1 b" style="left:27.5px;top:142.52px;font-size:24.9px;color:#fff;">$140.35<span style="font-size:13px">bn</span></div>
<div class="r" style="left:27px;top:174px;width:270px;height:1px;background:#62c3df;"></div>
<div class="t f2" style="left:27.2px;top:176.92px;font-size:19.8px;color:#fff;-webkit-text-stroke:0.35px currentColor;transform:scaleX(0.972);transform-origin:0 0;">Total GDP@Risk</div>
<div class="t f1 b" style="left:27.5px;top:196.73px;font-size:44.5px;color:#fff;">$17.44<span style="font-size:22.5px">bn</span></div>
<div class="t f1 b" style="left:27.5px;top:247.33px;font-size:14.5px;color:#fff;">12.42% of Average annual GDP</div>
<div class="r" style="left:27px;top:266px;width:270px;height:1px;background:#62c3df;"></div>
<div class="t f2" style="left:27.4px;top:269.72px;font-size:19.8px;color:#fff;-webkit-text-stroke:0.35px currentColor;transform:scaleX(0.96);transform-origin:0 0;">GDP@Risk: Top 5 threats</div>
<svg class="r" style="left:281.6px;top:124.4px" width="16" height="16" viewBox="0 0 16 16"><circle cx="8" cy="8" r="7.9" fill="#fff"/><circle cx="7.9" cy="3.6" r="1.1" fill="#232424"/><path d="M5.9 5.9h3.1v5.8h1.2v1.4H5.8v-1.4h1.2V7.3H5.9z" fill="#232424"/></svg>
<svg class="r" style="left:280.5px;top:-12.4px" width="16" height="16" viewBox="0 0 16 16"><circle cx="8" cy="8" r="7.9" fill="#fff"/><circle cx="7.9" cy="3.6" r="1.1" fill="#3a4049"/><path d="M5.9 5.9h3.1v5.8h1.2v1.4H5.8v-1.4h1.2V7.3H5.9z" fill="#3a4049"/></svg>
<svg class="r" style="left:281.6px;top:182.6px" width="16" height="16" viewBox="0 0 16 16"><circle cx="8" cy="8" r="7.9" fill="#fff"/><circle cx="7.9" cy="3.6" r="1.1" fill="#232424"/><path d="M5.9 5.9h3.1v5.8h1.2v1.4H5.8v-1.4h1.2V7.3H5.9z" fill="#232424"/></svg>
<div class="r" style="left:27px;top:298px;width:22px;height:19px;background:#cbcbcb;"></div>
<div class="r" style="left:52px;top:298px;width:243px;height:19px;background:#cbcbcb;"></div>
<div class="t f1 b" style="left:33.3px;top:300.43px;font-size:15.2px;color:#111;transform:scaleX(0.96);transform-origin:0 0;">1</div>
<div class="t f1 b" style="left:60.3px;top:300.43px;font-size:15.2px;color:#111;transform:scaleX(0.96);transform-origin:0 0;">Market crash</div>
<div class="t f1 b" style="left:193.3px;top:300.43px;font-size:15.2px;color:#111;transform:scaleX(0.96);transform-origin:0 0;">$6.20bn</div>
<div class="r" style="left:27px;top:321px;width:22px;height:19px;background:#cbcbcb;"></div>
<div class="r" style="left:52px;top:321px;width:243px;height:19px;background:#cbcbcb;"></div>
<div class="t f1 b" style="left:33.3px;top:323.13px;font-size:15.2px;color:#111;transform:scaleX(0.96);transform-origin:0 0;">2</div>
<div class="t f1 b" style="left:60.3px;top:323.13px;font-size:15.2px;color:#111;transform:scaleX(0.96);transform-origin:0 0;">Sovereign default</div>
<div class="t f1 b" style="left:193.3px;top:323.13px;font-size:15.2px;color:#111;transform:scaleX(0.96);transform-origin:0 0;">$2.94bn</div>
<div class="r" style="left:27px;top:343px;width:22px;height:19px;background:#cbcbcb;"></div>
<div class="r" style="left:52px;top:343px;width:243px;height:19px;background:#cbcbcb;"></div>
<div class="t f1 b" style="left:33.3px;top:345.83px;font-size:15.2px;color:#111;transform:scaleX(0.96);transform-origin:0 0;">3</div>
<div class="t f1 b" style="left:60.3px;top:345.83px;font-size:15.2px;color:#111;transform:scaleX(0.96);transform-origin:0 0;">Oil price shock</div>
<div class="t f1 b" style="left:193.3px;top:345.83px;font-size:15.2px;color:#111;transform:scaleX(0.96);transform-origin:0 0;">$2.72bn</div>
<div class="r" style="left:27px;top:366px;width:22px;height:19px;background:#cbcbcb;"></div>
<div class="r" style="left:52px;top:366px;width:243px;height:19px;background:#cbcbcb;"></div>
<div class="t f1 b" style="left:33.3px;top:368.53px;font-size:15.2px;color:#111;transform:scaleX(0.96);transform-origin:0 0;">4</div>
<div class="t f1 b" style="left:60.3px;top:368.53px;font-size:15.2px;color:#111;transform:scaleX(0.96);transform-origin:0 0;">Human pandemic</div>
<div class="t f1 b" style="left:193.3px;top:368.53px;font-size:15.2px;color:#111;transform:scaleX(0.96);transform-origin:0 0;">$1.31bn</div>
<div class="r" style="left:27px;top:389px;width:22px;height:19px;background:#cbcbcb;"></div>
<div class="r" style="left:52px;top:389px;width:243px;height:19px;background:#cbcbcb;"></div>
<div class="t f1 b" style="left:33.3px;top:391.23px;font-size:15.2px;color:#111;transform:scaleX(0.96);transform-origin:0 0;">5</div>
<div class="t f1 b" style="left:60.3px;top:391.23px;font-size:15.2px;color:#111;transform:scaleX(0.96);transform-origin:0 0;">Earthquake</div>
<div class="t f1 b" style="left:193.3px;top:391.23px;font-size:15.2px;color:#111;transform:scaleX(0.96);transform-origin:0 0;">$1.07bn</div>
<svg class="r" style="left:26px;top:416px" width="22" height="17" viewBox="0 0 22 17"><g fill="#62c3df"><rect x="1" y="0.6" width="1.7" height="15.4"/><rect x="1" y="14.7" width="20.1" height="1.3"/><rect x="4.3" y="8.2" width="3.2" height="5.7"/><rect x="8.4" y="2.9" width="3" height="11"/><rect x="12.1" y="5.9" width="3.1" height="8"/><rect x="16.1" y="1.9" width="3.1" height="12"/></g></svg>
<div class="t f1 b" style="left:58.2px;top:417.74px;font-size:16.25px;color:#fff;text-decoration:underline">View breakdown of threats</div>
<div class="r" style="left:27px;top:452px;width:270px;height:1px;background:#62c3df;"></div>
<svg class="r" style="left:26px;top:457px" width="18" height="20" viewBox="0 0 18 20"><g fill="none" stroke="#62c3df" stroke-width="1.7"><path d="M1.7 1.7h9l4.9 4.4v12.9H1.7z"/><path d="M10.6 1.7v4.8h4.9" stroke-width="1.4"/></g><g fill="none" stroke="#62c3df" stroke-width="1.2"><path d="M8 6.3v5.5l-3.7 4.6M8 11.8l5 1.2"/></g></svg>
<div class="t f1 b" style="left:57.4px;top:459.54px;font-size:16.25px;color:#fff;text-decoration:underline">Download Athens factsheet</div>
<div class="r" style="left:27px;top:509px;width:270px;height:1px;background:#62c3df;"></div>
<div class="t f1" style="left:27px;top:514.05px;font-size:14px;color:#fff;">Share this data</div>
<svg class="r" style="left:26px;top:531px" width="17" height="17" viewBox="0 0 17 17"><g fill="#fff"><circle cx="2.8" cy="2.6" r="2"/><rect x="0.9" y="5.3" width="3.9" height="10.8"/><path d="M6.3 5.3h3.7v1.6c.6-1.1 1.9-1.9 3.6-1.9 2.6 0 3.5 1.6 3.5 4.4v6.7h-3.8v-6c0-1.2-.3-2.1-1.5-2.1s-1.8.9-1.8 2.1v6H6.3z"/></g></svg>
<svg class="r" style="left:52.5px;top:532.5px" width="17" height="14" viewBox="0 0 512 420"><path fill="#fff" transform="translate(0,-52)" d="M459.37 151.716c.325 4.548.325 9.097.325 13.645 0 138.72-105.583 298.558-298.558 298.558-59.452 0-114.68-17.219-161.137-47.106 8.447.974 16.568 1.299 25.34 1.299 49.055 0 94.213-16.568 130.274-44.832-46.132-.975-84.792-31.188-98.112-72.772 6.498.974 12.995 1.624 19.818 1.624 9.421 0 18.843-1.3 27.614-3.573-48.081-9.747-84.143-51.98-84.143-102.985v-1.299c13.969 7.797 30.214 12.67 47.431 13.319-28.264-18.843-46.781-51.005-46.781-87.391 0-19.492 5.197-37.36 14.294-52.954 51.655 63.675 129.3 105.258 216.365 109.807-1.624-7.797-2.599-15.918-2.599-24.04 0-57.828 46.782-104.934 104.934-104.934 30.213 0 57.502 12.67 76.67 33.137 23.715-4.548 46.456-13.32 66.599-25.34-7.798 24.366-24.366 44.833-46.132 57.827 21.117-2.273 41.584-8.122 60.426-16.243-14.292 20.791-32.161 39.308-52.628 54.253z"/></svg>
<svg class="r" style="left:80px;top:531px" width="10.2" height="16.4" viewBox="0 0 320 512" preserveAspectRatio="none"><path fill="#fff" d="M279.14 288l14.22-92.66h-88.91v-60.13c0-25.35 9.72-50.06 40.89-50.06h40.42V6.26S260.43 0 225.36 0c-73.22 0-121.08 44.38-121.08 124.72v70.62H22.89V288h81.39v224h100.17V288z"/></svg>
<svg class="r" style="left:100px;top:532.8px" width="18.3" height="14.6" viewBox="0 64 512 384" preserveAspectRatio="none"><path fill="#fff" d="M502.3 190.8c3.9-3.1 9.7-.2 9.7 4.7V400c0 26.5-21.5 48-48 48H48c-26.5 0-48-21.5-48-48V195.6c0-5 5.7-7.8 9.7-4.7 22.4 17.4 52.1 39.5 154.1 113.6 21.1 15.4 56.7 47.8 92.2 47.6 35.7.3 72-32.8 92.3-47.600 102-74.1 131.6-96.3 154-113.7zM256 320c23.2.4 56.6-29.2 73.4-41.4 132.7-96.3 142.8-104.7 173.4-128.7 5.8-4.5 9.2-11.5 9.2-18.9v-19c0-26.5-21.5-48-48-48H48C21.5 64 0 85.5 0 112v19c0 7.4 3.4 14.3 9.2 18.9 30.600 23.9 40.7 32.4 173.4 128.7 16.8 12.2 50.2 41.8 73.4 41.4z"/></svg>
<div class="t f2" style="left:341.3px;top:-4.63px;font-size:23.8px;color:#6ec6e0;-webkit-text-stroke:0.35px currentColor;">Athens</div>
<div class="t f2" style="left:341.5px;top:22.82px;font-size:18.6px;color:#fff;-webkit-text-stroke:0.35px currentColor;transform:scaleX(1.02);transform-origin:0 0;">GDP@Risk: All threats</div>
<div class="t f1 b" style="left:342px;top:45.41px;font-size:24.2px;color:#fff;">$17.44bn</div>
<svg class="r" style="left:980px;top:-8px" width="16" height="16" viewBox="0 0 16 16"><path d="M3 3L13 13M13 3L3 13" stroke="#ddd" stroke-width="2.6"/></svg>
<div class="r" style="left:362px;top:94px;width:418px;height:19px;background:#6cc8e0;"></div>
<div class="t f1" style="left:324px;width:40px;text-align:center;top:97.31px;font-size:15.7px">1</div>
<div class="t f1 b" style="left:784px;top:96.75px;font-size:14px;color:#fff;"><span style="color:#6ec6e0">Market crash</span> $6.20bn</div>
<div class="r" style="left:362px;top:114px;width:198px;height:19px;background:#74cbe2;"></div>
<div class="t f1" style="left:324px;width:40px;text-align:center;top:117.31px;font-size:15.7px">2</div>
<div class="t f1 b" style="left:564px;top:116.75px;font-size:14px;color:#fff;"><span style="color:#6ec6e0">Sovereign default</span> $2.94bn</div>
<div class="r" style="left:362px;top:134px;width:183px;height:19px;background:#7ccee3;"></div>
<div class="t f1" style="left:324px;width:40px;text-align:center;top:137.31px;font-size:15.7px">3</div>
<div class="t f1 b" style="left:549px;top:136.75px;font-size:14px;color:#fff;"><span style="color:#6ec6e0">Oil price shock</span> $2.72bn</div>
<div class="r" style="left:362px;top:154px;width:87px;height:19px;background:#84d1e5;"></div>
<div class="t f1" style="left:324px;width:40px;text-align:center;top:157.31px;font-size:15.7px">4</div>
<div class="t f1 b" style="left:453px;top:156.75px;font-size:14px;color:#fff;"><span style="color:#6ec6e0">Human pandemic</span> $1.31bn</div>
<div class="r" style="left:362px;top:174px;width:71px;height:19px;background:#8cd4e7;"></div>
<div class="t f1" style="left:324px;width:40px;text-align:center;top:177.31px;font-size:15.7px">5</div>
<div class="t f1 b" style="left:437px;top:176.75px;font-size:14px;color:#fff;"><span style="color:#6ec6e0">Earthquake</span> $1.07bn</div>
<div class="r" style="left:362px;top:194px;width:70px;height:19px;background:#94d7e8;"></div>
<div class="t f1" style="left:324px;width:40px;text-align:center;top:197.31px;font-size:15.7px">6</div>
<div class="t f1 b" style="left:436px;top:196.75px;font-size:14px;color:#fff;"><span style="color:#6ec6e0">Cyber attack</span> $1.06bn</div>
<div class="r" style="left:362px;top:214px;width:31px;height:19px;background:#9cdaea;"></div>
<div class="t f1" style="left:324px;width:40px;text-align:center;top:217.31px;font-size:15.7px">7</div>
<div class="t f1 b" style="left:397px;top:216.75px;font-size:14px;color:#fff;"><span style="color:#6ec6e0">Flood</span> $0.47bn</div>
<div class="r" style="left:362px;top:234px;width:23px;height:19px;background:#a4dcec;"></div>
<div class="t f1" style="left:324px;width:40px;text-align:center;top:237.31px;font-size:15.7px">8</div>
<div class="t f1 b" style="left:389px;top:236.75px;font-size:14px;color:#fff;"><span style="color:#6ec6e0">Terrorism</span> $0.36bn</div>
<div class="r" style="left:362px;top:254px;width:20px;height:19px;background:#acdfee;"></div>
<div class="t f1" style="left:324px;width:40px;text-align:center;top:257.31px;font-size:15.7px">9</div>
<div class="t f1 b" style="left:386px;top:256.75px;font-size:14px;color:#fff;"><span style="color:#6ec6e0">Power outage</span> $0.32bn</div>
<div class="r" style="left:362px;top:274px;width:17px;height:19px;background:#b4e2ef;"></div>
<div class="t f1" style="left:324px;width:40px;text-align:center;top:277.31px;font-size:15.7px">10</div>
<div class="t f1 b" style="left:383px;top:276.75px;font-size:14px;color:#fff;"><span style="color:#6ec6e0">Drought</span> $0.27bn</div>
<div class="r" style="left:362px;top:294px;width:14px;height:19px;background:#bce5f1;"></div>
<div class="t f1" style="left:324px;width:40px;text-align:center;top:297.31px;font-size:15.7px">11</div>
<div class="t f1 b" style="left:380px;top:296.75px;font-size:14px;color:#fff;"><span style="color:#6ec6e0">Solar storm</span> $0.23bn</div>
<div class="r" style="left:362px;top:314px;width:10px;height:19px;background:#c4e8f3;"></div>
<div class="t f1" style="left:324px;width:40px;text-align:center;top:317.31px;font-size:15.7px">12</div>
<div class="t f1 b" style="left:376px;top:316.75px;font-size:14px;color:#fff;"><span style="color:#6ec6e0">Volcano</span> $0.17bn</div>
<div class="r" style="left:362px;top:334px;width:9px;height:19px;background:#ccebf4;"></div>
<div class="t f1" style="left:324px;width:40px;text-align:center;top:337.31px;font-size:15.7px">13</div>
<div class="t f1 b" style="left:375px;top:336.75px;font-size:14px;color:#fff;"><span style="color:#6ec6e0">Heatwave</span> $0.15bn</div>
<div class="r" style="left:362px;top:354px;width:8px;height:19px;background:#d4eef6;"></div>
<div class="t f1" style="left:324px;width:40px;text-align:center;top:357.31px;font-size:15.7px">14</div>
<div class="t f1 b" style="left:374px;top:356.75px;font-size:14px;color:#fff;"><span style="color:#6ec6e0">Plant epidemic</span> $0.14bn</div>
<div class="t f1" style="left:324px;width:40px;text-align:center;top:377.31px;font-size:15.7px">15</div>
<div class="t f1 b" style="left:365.5px;top:376.75px;font-size:14px;color:#fff;"><span style="color:#6ec6e0">Freeze</span> $0.00bn</div>
<div class="t f1" style="left:325.3px;width:40px;text-align:center;top:397.49px;font-size:17.5px;-webkit-text-stroke:0.4px #fff">-</div>
<div class="t f1 b" style="left:365.5px;top:396.75px;font-size:14px;color:#fff;"><span style="color:#6ec6e0">Nuclear accident</span> $0.00bn</div>
<div class="t f1" style="left:325.3px;width:40px;text-align:center;top:417.49px;font-size:17.5px;-webkit-text-stroke:0.4px #fff">-</div>
<div class="t f1 b" style="left:365.5px;top:416.75px;font-size:14px;color:#fff;"><span style="color:#6ec6e0">Tsunami</span> $0.00bn</div>
<div class="t f1" style="left:325.3px;width:40px;text-align:center;top:437.49px;font-size:17.5px;-webkit-text-stroke:0.4px #fff">-</div>
<div class="t f1 b" style="left:365.5px;top:436.75px;font-size:14px;color:#fff;"><span style="color:#6ec6e0">Wind storm</span> $0.00bn</div>
<div class="r" style="left:361px;top:93.5px;width:1px;height:441px;background:#fff;"></div>
<div class="r" style="left:361px;top:534px;width:420px;height:1.5px;background:#fff;"></div>
<div class="r" style="left:466px;top:523px;width:1px;height:12px;background:#fff;"></div>
<div class="t f1 b" style="left:426px;width:81px;text-align:center;top:541.48px;font-size:14.2px">$1.55bn</div>
<div class="r" style="left:570px;top:523px;width:1px;height:12px;background:#fff;"></div>
<div class="t f1 b" style="left:530px;width:81px;text-align:center;top:541.48px;font-size:14.2px">$3.10bn</div>
<div class="r" style="left:675px;top:523px;width:1px;height:12px;background:#fff;"></div>
<div class="t f1 b" style="left:635px;width:81px;text-align:center;top:541.48px;font-size:14.2px">$4.65bn</div>
<div class="r" style="left:780px;top:523px;width:1px;height:12px;background:#fff;"></div>
<div class="t f1 b" style="left:740px;width:81px;text-align:center;top:541.48px;font-size:14.2px">$6.20bn</div>
</body></html>
